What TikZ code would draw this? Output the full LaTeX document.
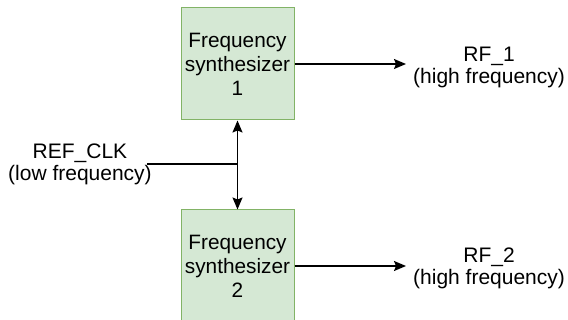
\documentclass[tikz,border=0pt]{standalone}
\usepackage{fontspec}
\setmainfont{Liberation Sans}
\usetikzlibrary{arrows.meta}
\definecolor{boxfill}{HTML}{D5E8D4}
\definecolor{boxline}{HTML}{82B366}
\tikzset{
  synth/.style={draw=boxline, fill=boxfill, line width=1pt, minimum width=113pt, minimum height=112pt, align=center, inner sep=0pt, font=\fontsize{20.8}{24}\selectfont},
  lbl/.style={align=center, inner sep=0pt, inner xsep=7pt, font=\fontsize{21}{22}\selectfont},
  conn/.style={line width=1.4pt, -{Stealth[length=12pt,width=10pt,inset=2pt]}},
  dconn/.style={line width=1.4pt, {Stealth[length=12pt,width=10pt,inset=2pt]}-{Stealth[length=12pt,width=10pt,inset=2pt]}}
}
\begin{document}
\begin{tikzpicture}[x=1pt,y=-1pt]
\useasboundingbox (0,0) rectangle (568,320);
\begin{scope}
\clip (0,0) rectangle (568,320);
\node[synth] (box1) at (237.5,64) {Frequency\\synthesizer\\1};
\node[synth] (box2) at (237.5,266) {Frequency\\synthesizer\\2};
\end{scope}
\node[lbl, anchor=west] (rf1) at (406,67) {RF\_1\\(high frequency)};
\node[lbl, anchor=west] (rf2) at (406,268) {RF\_2\\(high frequency)};
\node[lbl, inner xsep=0pt] (ref) at (80,164) {REF\_CLK\\(low frequency)};
\coordinate (j) at (237.5,164);
\draw[conn] (box1.east) -- (box1.east -| rf1.west);
\draw[conn] (box2.east) -- (box2.east -| rf2.west);
\draw[dconn] (box1.south) -- (box2.north);
\draw[line width=1.4pt] ([xshift=-5pt]ref.east) -- (j);
\end{tikzpicture}
\end{document}
